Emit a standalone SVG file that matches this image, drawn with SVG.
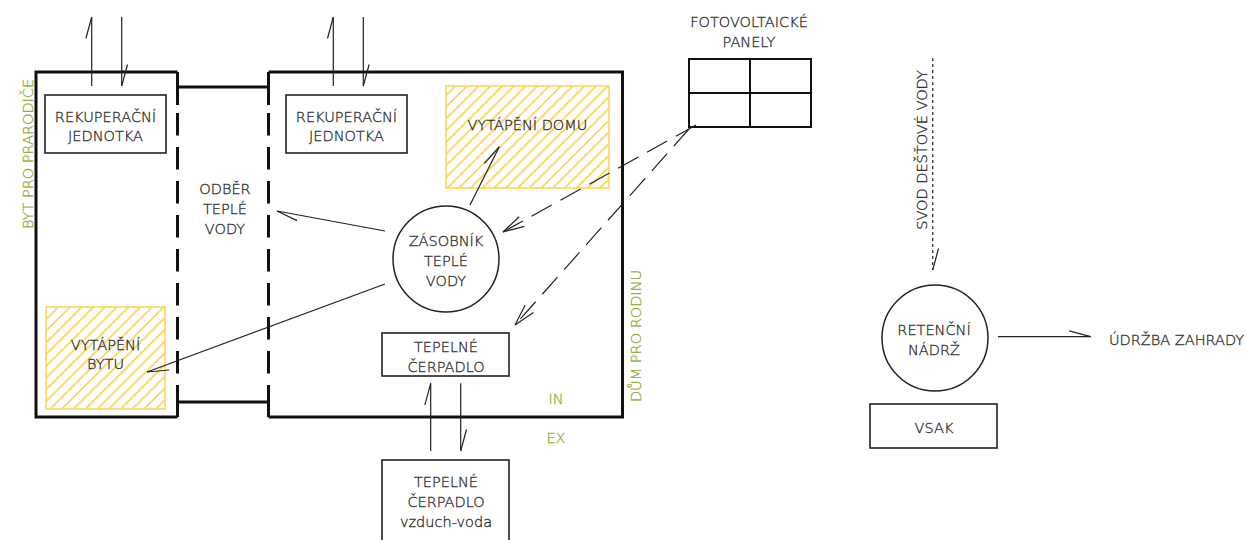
<svg xmlns="http://www.w3.org/2000/svg" width="1246" height="540" viewBox="0 0 1246 540">
<style>
text{font-family:"DejaVu Sans ExtraLight","DejaVu Sans",sans-serif;font-weight:200;font-size:14.5px;fill:#2a2a2a;stroke:#2a2a2a;stroke-width:0.3;text-anchor:middle}
text.g{fill:#8FAE3A;stroke:#8FAE3A}
.wall{fill:none;stroke:#111;stroke-width:3}
.box{fill:#fff;stroke:#222;stroke-width:1.6}
.heat{fill:url(#hatch);stroke:#FFD45C;stroke-width:1.6}
.ln{fill:none;stroke:#222;stroke-width:1.2}
.h{marker-end:url(#harp)}
.dsh{stroke-dasharray:23 10;marker-end:url(#vee)}
.dot{stroke-dasharray:3 3}
</style>
<defs>
<pattern id="hatch" patternUnits="userSpaceOnUse" width="8.3" height="8.3" patternTransform="rotate(45)">
<rect width="8.3" height="8.3" fill="#fff"/>
<line x1="1" y1="0" x2="1" y2="8.3" stroke="#FFD45C" stroke-width="1.8"/>
</pattern>
<marker id="harp" markerUnits="userSpaceOnUse" orient="auto" overflow="visible" markerWidth="1" markerHeight="1">
<path d="M0,0 L-21.5,-5.8" fill="none" stroke="#222" stroke-width="1.2"/>
</marker>
<marker id="vee" markerUnits="userSpaceOnUse" orient="auto" overflow="visible" markerWidth="1" markerHeight="1">
<path d="M-21.5,-5.5 L0,0 L-21.5,5.5" fill="none" stroke="#222" stroke-width="1.2"/>
</marker>
</defs>

<g id="building-byt">
<path class="wall" d="M177.5,72 H36 V417 H177.5"/>
<text class="g" transform="translate(33,154) rotate(-90)">BYT PRO PRARODIČE</text>
</g>
<g id="building-dum">
<path class="wall" d="M268.5,72 H622.5 V417 H268.5"/>
<text class="g" transform="translate(640.5,336) rotate(-90)">DŮM PRO RODINU</text>
<text class="g" x="556" y="404">IN</text>
<text class="g" x="556" y="443">EX</text>
</g>
<g id="odber">
<path class="wall" d="M177.5,72 V105 M177.5,113 V135.5 M177.5,147 V169.5 M177.5,181 V203.5 M177.5,215 V237.5 M177.5,249 V271.5 M177.5,283 V305.5 M177.5,317 V339.5 M177.5,351 V373.5 M177.5,385 V417"/>
<path class="wall" d="M268.5,72 V105 M268.5,113 V135.5 M268.5,147 V169.5 M268.5,181 V203.5 M268.5,215 V237.5 M268.5,249 V271.5 M268.5,283 V305.5 M268.5,317 V339.5 M268.5,351 V373.5 M268.5,385 V417"/>
<path class="wall" d="M177.5,87 H268.5 M177.5,402 H268.5"/>
<text x="225" y="194">ODBĚR</text>
<text x="225" y="214">TEPLÉ</text>
<text x="225" y="234">VODY</text>
</g>
<g id="rekup-byt">
<rect class="box" x="45" y="95" width="121" height="58"/>
<text x="105.5" y="122">REKUPERAČNÍ</text>
<text x="105.5" y="141">JEDNOTKA</text>
</g>
<g id="rekup-dum">
<rect class="box" x="286" y="95" width="121" height="58"/>
<text x="346.5" y="122">REKUPERAČNÍ</text>
<text x="346.5" y="141">JEDNOTKA</text>
</g>
<g id="vytapeni-domu">
<rect class="heat" x="446" y="86" width="163" height="102"/>
<text x="527.5" y="130">VYTÁPĚNÍ DOMU</text>
</g>
<g id="vytapeni-bytu">
<rect class="heat" x="46" y="307" width="119" height="102"/>
<text x="105.5" y="350">VYTÁPĚNÍ</text>
<text x="105.5" y="369">BYTU</text>
</g>
<g id="zasobnik">
<circle cx="446" cy="259" r="53" fill="#fff" stroke="#222" stroke-width="1.5"/>
<text x="446" y="246">ZÁSOBNÍK</text>
<text x="446" y="266">TEPLÉ</text>
<text x="446" y="286">VODY</text>
</g>
<g id="tc-in">
<rect class="box" x="382" y="333" width="127" height="43"/>
<text x="446" y="352">TEPELNÉ</text>
<text x="446" y="372">ČERPADLO</text>
</g>
<g id="tc-out">
<rect class="box" x="382" y="460" width="127" height="90"/>
<text x="446" y="487">TEPELNÉ</text>
<text x="446" y="507">ČERPADLO</text>
<text x="446" y="527">vzduch-voda</text>
</g>
<g id="fve">
<rect x="689" y="59" width="122" height="68" fill="#fff" stroke="#111" stroke-width="2"/>
<path d="M750,59 V127 M689,93 H811" stroke="#111" stroke-width="2"/>
<text x="749" y="27">FOTOVOLTAICKÉ</text>
<text x="749" y="47">PANELY</text>
</g>
<g id="svod">
<text transform="translate(926.5,150) rotate(-90)">SVOD DEŠŤOVÉ VODY</text>
</g>
<g id="retencni">
<circle cx="935" cy="338" r="53" fill="#fff" stroke="#222" stroke-width="1.5"/>
<text x="934" y="335">RETENČNÍ</text>
<text x="934" y="355">NÁDRŽ</text>
</g>
<g id="vsak">
<rect class="box" x="870" y="404" width="127" height="44"/>
<text x="934" y="433">VSAK</text>
</g>
<g id="zahrada">
<text x="1109" y="345" style="text-anchor:start">ÚDRŽBA ZAHRADY</text>
</g>

<g id="connectors">
<line class="ln h" x1="91.7" y1="86" x2="91.7" y2="17"/>
<line class="ln h" x1="121.7" y1="17" x2="121.7" y2="86"/>
<line class="ln h" x1="333.3" y1="86" x2="333.3" y2="17"/>
<line class="ln h" x1="363.3" y1="17" x2="363.3" y2="86"/>
<line class="ln h" x1="470" y1="205" x2="499.3" y2="146.7"/>
<line class="ln h" x1="385" y1="231" x2="277" y2="211"/>
<line class="ln h" x1="385" y1="284" x2="147" y2="372"/>
<line class="ln h" x1="430.7" y1="451" x2="430.7" y2="383.3"/>
<line class="ln h" x1="460.7" y1="383.3" x2="460.7" y2="451"/>
<line class="ln dsh" x1="696" y1="125" x2="503" y2="232"/>
<line class="ln dsh" x1="689" y1="129" x2="515" y2="325"/>
<line class="ln dot h" x1="932.7" y1="58" x2="932.7" y2="270"/>
<line class="ln h" x1="998" y1="336.7" x2="1090.7" y2="336.7"/>
</g>
</svg>
